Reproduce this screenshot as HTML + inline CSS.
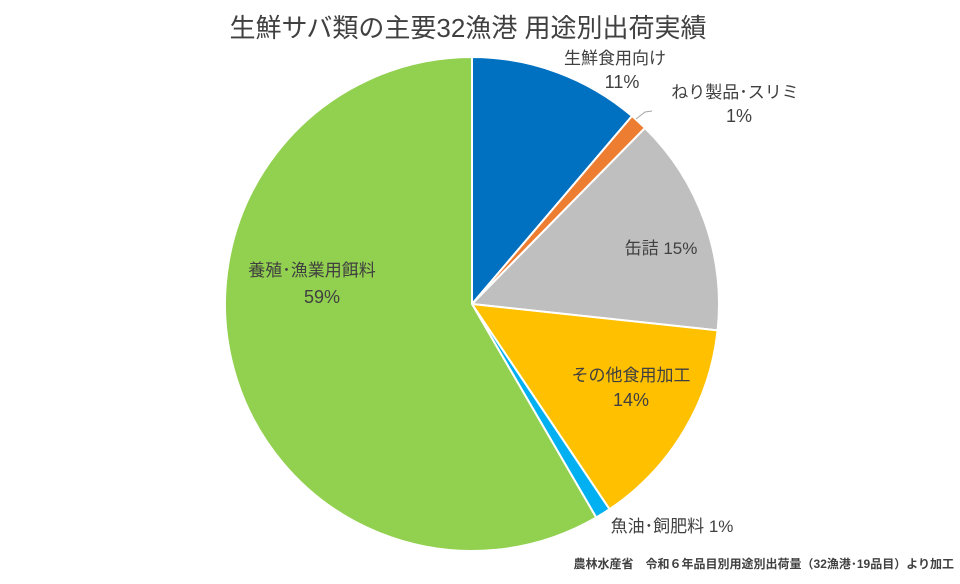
<!DOCTYPE html>
<html><head><meta charset="utf-8"><style>
body{margin:0;background:#fff;}
svg text{font-family:"Liberation Sans","Noto Sans CJK JP",sans-serif;fill:#404040;}
</style></head><body>
<svg width="960" height="579" viewBox="0 0 960 579" xmlns="http://www.w3.org/2000/svg">
<rect width="960" height="579" fill="#fff"/>
<text x="468" y="37" font-size="26" text-anchor="middle" fill="#222">生鮮サバ類の主要32漁港 用途別出荷実績</text>
<g stroke="#fff" stroke-width="2">
<path d="M472,304 L472,57 A247,247 0 0 1 632,116 Z" fill="#0070C0"/>
<path d="M472,304 L632,116 A247,247 0 0 1 645,128 Z" fill="#ED7D31"/>
<path d="M472,304 L645,128 A247,247 0 0 1 717.6,330.4 Z" fill="#BFBFBF"/>
<path d="M472,304 L717.6,330.4 A247,247 0 0 1 609.5,509.2 Z" fill="#FFC000"/>
<path d="M472,304 L609.5,509.2 A247,247 0 0 1 596.2,517.5 Z" fill="#00B0F0"/>
<path d="M472,304 L596.2,517.5 A247,247 0 1 1 472,57 Z" fill="#92D050"/>
</g>
<polyline points="636,119 645,112 652,111" fill="none" stroke="#A6A6A6" stroke-width="1"/>
<g font-size="17" text-anchor="middle">
<text x="615" y="64">生鮮食用向け</text>
<text x="622" y="88" font-size="18">11%</text>
<text x="735" y="98">ねり製品･スリミ</text>
<text x="739" y="122" font-size="18">1%</text>
<text x="661" y="254">缶詰 15%</text>
<text x="631" y="381">その他食用加工</text>
<text x="631" y="406" font-size="18">14%</text>
<text x="672" y="532">魚油･飼肥料 1%</text>
<text x="312" y="276">養殖･漁業用餌料</text>
<text x="322" y="303" font-size="18">59%</text>
</g>
<text x="954" y="568" font-size="12" font-weight="bold" text-anchor="end" fill="#000">農林水産省　令和６年品目別用途別出荷量（32漁港･19品目）より加工</text>
</svg>
</body></html>
